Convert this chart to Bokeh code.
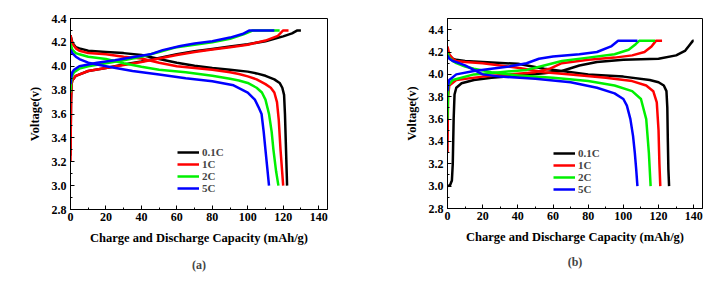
from bokeh.plotting import figure
from bokeh.layouts import row
from bokeh.models import Legend, LegendItem, Title, SingleIntervalTicker, Range1d, PrintfTickFormatter
from bokeh.embed import file_html
from bokeh.resources import INLINE

series_labels = ["0.1C", "1C", "2C", "5C"]
colors = ["#000000", "#ff0000", "#00f000", "#0000ff"]

# ---------- panel (a) ----------
a_dis_01C_x = [0, 1, 3, 5, 10, 20, 30, 40, 50, 60, 70, 80, 90, 100, 105, 110, 115, 118, 119.5, 120.5, 121, 121.5, 122, 122.2]
a_dis_01C_y = [4.26, 4.20, 4.16, 4.15, 4.13, 4.12, 4.11, 4.095, 4.06, 4.03, 4.005, 3.985, 3.97, 3.955, 3.94, 3.92, 3.89, 3.86, 3.82, 3.76, 3.6, 3.35, 3.1, 3.0]
a_dis_1C_x = [0, 1, 3, 5, 10, 20, 30, 40, 50, 60, 70, 80, 90, 95, 100, 105, 110, 113, 115, 116.5, 117.5, 118.5, 119.5, 120]
a_dis_1C_y = [4.26, 4.19, 4.15, 4.13, 4.11, 4.10, 4.08, 4.065, 4.03, 4.0, 3.985, 3.97, 3.95, 3.935, 3.915, 3.89, 3.85, 3.82, 3.78, 3.7, 3.55, 3.3, 3.1, 3.0]
a_dis_2C_x = [0, 1, 3, 5, 10, 20, 30, 40, 50, 65, 80, 90, 95, 100, 105, 108, 110, 112, 113.5, 114.5, 116, 117.3]
a_dis_2C_y = [4.19, 4.14, 4.11, 4.10, 4.08, 4.06, 4.025, 3.995, 3.97, 3.95, 3.92, 3.895, 3.88, 3.86, 3.82, 3.78, 3.72, 3.6, 3.45, 3.3, 3.12, 3.0]
a_dis_5C_x = [0, 1, 3, 5, 10, 20, 35, 50, 65, 80, 92, 100, 104, 106, 107.8, 109, 110, 111, 112]
a_dis_5C_y = [4.14, 4.11, 4.08, 4.06, 4.03, 4.0, 3.96, 3.93, 3.90, 3.875, 3.84, 3.78, 3.72, 3.66, 3.6, 3.45, 3.3, 3.15, 3.0]

a_chg_01C_x = [0, 0.3, 0.6, 1, 3, 10, 20, 30, 40, 50, 60, 70, 80, 90, 100, 110, 115, 120, 125, 128, 130]
a_chg_01C_y = [3.25, 3.7, 3.85, 3.88, 3.92, 3.96, 3.985, 4.015, 4.04, 4.07, 4.1, 4.125, 4.145, 4.165, 4.185, 4.21, 4.23, 4.25, 4.275, 4.3, 4.3]
a_chg_1C_x = [0, 0.3, 0.6, 1, 3, 10, 20, 30, 40, 50, 60, 70, 80, 90, 100, 110, 117, 120, 123]
a_chg_1C_y = [3.2, 3.7, 3.85, 3.88, 3.92, 3.96, 3.985, 4.01, 4.035, 4.065, 4.095, 4.12, 4.14, 4.16, 4.18, 4.215, 4.255, 4.3, 4.3]
a_chg_2C_x = [0, 0.3, 1, 2, 5, 10, 20, 30, 40, 50, 60, 70, 80, 90, 98, 103, 118]
a_chg_2C_y = [3.78, 3.86, 3.92, 3.95, 3.98, 4.0, 4.025, 4.05, 4.08, 4.12, 4.16, 4.18, 4.2, 4.23, 4.27, 4.3, 4.3]
a_chg_5C_x = [0, 0.3, 1, 2, 5, 15, 25, 35, 45, 52, 62, 70, 80, 90, 97, 101, 115]
a_chg_5C_y = [3.85, 3.9, 3.95, 3.97, 4.0, 4.03, 4.05, 4.075, 4.1, 4.135, 4.17, 4.19, 4.21, 4.24, 4.27, 4.3, 4.3]

# ---------- panel (b) ----------
b_dis_01C_x = [0, 1, 3, 5, 10, 20, 40, 55, 65, 80, 100, 115, 120, 123, 124.5, 125, 125.3, 125.6, 126]
b_dis_01C_y = [4.2, 4.17, 4.14, 4.13, 4.12, 4.11, 4.095, 4.05, 4.03, 4.0, 3.98, 3.95, 3.93, 3.9, 3.85, 3.7, 3.4, 3.15, 3.0]
b_dis_1C_x = [0, 1, 3, 5, 10, 20, 40, 55, 70, 90, 105, 113, 117, 119, 120, 120.5, 121]
b_dis_1C_y = [4.25, 4.18, 4.14, 4.12, 4.11, 4.1, 4.06, 4.02, 4.0, 3.97, 3.94, 3.9, 3.85, 3.75, 3.5, 3.2, 3.0]
b_dis_2C_x = [0, 1, 3, 5, 10, 15, 25, 40, 60, 80, 95, 105, 110, 113, 114.5, 115.5]
b_dis_2C_y = [4.2, 4.15, 4.12, 4.1, 4.07, 4.05, 4.02, 3.99, 3.97, 3.94, 3.9, 3.85, 3.78, 3.6, 3.3, 3.0]
b_dis_5C_x = [0, 1, 3, 5, 10, 15, 20, 30, 50, 70, 85, 95, 100, 102, 104, 105.5, 106.5, 107.3, 108]
b_dis_5C_y = [4.17, 4.14, 4.12, 4.11, 4.08, 4.04, 4.0, 3.98, 3.96, 3.93, 3.88, 3.83, 3.78, 3.72, 3.6, 3.45, 3.3, 3.15, 3.0]

b_chg_01C_x = [0, 1.5, 2.5, 3, 3.5, 4, 5, 8, 15, 25, 40, 55, 65, 75, 85, 100, 120, 130, 135, 138, 139.5, 140]
b_chg_01C_y = [3.0, 3.01, 3.05, 3.2, 3.6, 3.82, 3.88, 3.92, 3.95, 3.97, 3.99, 4.01, 4.03, 4.08, 4.11, 4.13, 4.14, 4.17, 4.21, 4.27, 4.3, 4.3]
b_chg_1C_x = [0, 0.3, 1, 5, 20, 35, 50, 58, 65, 80, 95, 105, 112, 116, 118.5, 122]
b_chg_1C_y = [3.3, 3.8, 3.9, 3.95, 3.98, 4.0, 4.02, 4.05, 4.1, 4.13, 4.15, 4.17, 4.2, 4.25, 4.3, 4.3]
b_chg_2C_x = [0, 0.3, 0.5, 3, 15, 30, 45, 55, 65, 80, 95, 103, 107, 109, 118]
b_chg_2C_y = [3.6, 3.8, 3.9, 3.95, 4.0, 4.02, 4.04, 4.08, 4.12, 4.15, 4.18, 4.22, 4.27, 4.3, 4.3]
b_chg_5C_x = [0, 0.3, 1, 5, 15, 25, 35, 45, 52, 60, 75, 85, 93, 97, 108]
b_chg_5C_y = [3.85, 3.9, 3.95, 4.0, 4.03, 4.05, 4.07, 4.1, 4.14, 4.16, 4.18, 4.2, 4.25, 4.3, 4.3]

x_tick_interval = 20
y_tick_interval = 0.2
x_label = "Charge and Discharge Capacity (mAh/g)"
y_label = "Voltage(v)"

FONT = "'Liberation Serif', 'Times New Roman', serif"


def style(p):
    p.grid.visible = False
    p.outline_line_color = "black"
    p.outline_line_width = 1
    p.xaxis.ticker = SingleIntervalTicker(interval=x_tick_interval, num_minor_ticks=2)
    p.yaxis.ticker = SingleIntervalTicker(interval=y_tick_interval, num_minor_ticks=2)
    p.yaxis.formatter = PrintfTickFormatter(format="%.1f")
    for ax in (p.xaxis[0], p.yaxis[0]):
        ax.major_tick_in = 4
        ax.major_tick_out = 0
        ax.minor_tick_in = 2
        ax.minor_tick_out = 0
        ax.axis_line_color = "black"
        ax.major_label_text_font = FONT
        ax.major_label_text_font_style = "bold"
        ax.major_label_text_font_size = "12px"
        ax.major_label_text_color = "black"
        ax.axis_label_text_font = FONT
        ax.axis_label_text_font_style = "bold"
        ax.axis_label_text_font_size = "12.5px"
        ax.axis_label_text_color = "black"
    p.xaxis.major_label_standoff = 3
    p.yaxis.major_label_standoff = 4
    p.xaxis.axis_label_standoff = 7
    p.yaxis.axis_label_standoff = 7
    p.xaxis.axis_label = x_label
    p.yaxis.axis_label = y_label


def make_panel(dis, chg, yr, fw, fh, border_left, border_top, border_right, border_bottom,
               caption, cap_offset, cap_valign, legend_loc):
    p = figure(output_backend="svg", toolbar_location=None,
               frame_width=fw, frame_height=fh,
               x_range=Range1d(0, 145), y_range=Range1d(*yr),
               min_border_left=border_left, min_border_top=border_top,
               min_border_right=border_right, min_border_bottom=border_bottom)
    style(p)
    items = []
    for (dx, dy), (cx, cy), c, lab in zip(dis, chg, colors, series_labels):
        r1 = p.line(dx, dy, line_color=c, line_width=2.5, line_join="round")
        r2 = p.line(cx, cy, line_color=c, line_width=2.5, line_join="round")
        items.append(LegendItem(label=lab, renderers=[r1]))
    leg = Legend(items=items, location=legend_loc, background_fill_alpha=0,
                 border_line_alpha=0, padding=0, margin=0, spacing=0,
                 glyph_width=22, glyph_height=12, label_height=12, label_standoff=3,
                 label_text_font=FONT, label_text_font_style="bold",
                 label_text_font_size="11px")
    p.add_layout(leg)
    p.add_layout(Title(text=caption, align="center", offset=cap_offset, standoff=17,
                       vertical_align=cap_valign,
                       text_font=FONT, text_font_style="bold", text_font_size="12px"),
                 "below")
    return p


pa = make_panel(
    [(a_dis_01C_x, a_dis_01C_y), (a_dis_1C_x, a_dis_1C_y), (a_dis_2C_x, a_dis_2C_y), (a_dis_5C_x, a_dis_5C_y)],
    [(a_chg_01C_x, a_chg_01C_y), (a_chg_1C_x, a_chg_1C_y), (a_chg_2C_x, a_chg_2C_y), (a_chg_5C_x, a_chg_5C_y)],
    (2.8, 4.4), 257, 191, 70, 17, 38, 77, "(a)", 8, "bottom", (107, 15))

pb = make_panel(
    [(b_dis_01C_x, b_dis_01C_y), (b_dis_1C_x, b_dis_1C_y), (b_dis_2C_x, b_dis_2C_y), (b_dis_5C_x, b_dis_5C_y)],
    [(b_chg_01C_x, b_chg_01C_y), (b_chg_1C_x, b_chg_1C_y), (b_chg_2C_x, b_chg_2C_y), (b_chg_5C_x, b_chg_5C_y)],
    (2.8, 4.5), 255, 190, 82, 18, 21, 77, "(b)", 3, "top", (106, 13))

layout = row(pa, pb)
open("out.html", "w").write(file_html(layout, INLINE))
